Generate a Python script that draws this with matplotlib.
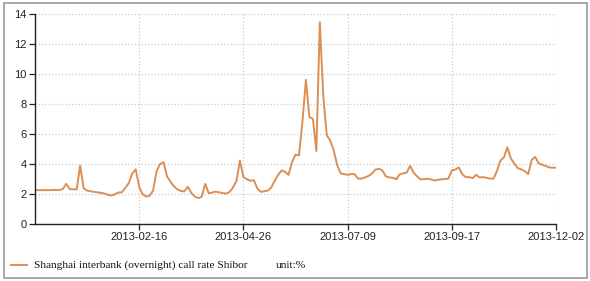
import numpy as np
import matplotlib.pyplot as plt
from matplotlib.patches import Rectangle

# Shibor overnight rate, one value per trading day index
rate = [2.23, 2.23, 2.23, 2.23, 2.23, 2.24, 2.24, 2.24, 2.30, 2.65,
        2.30, 2.28, 2.28, 3.88, 2.35, 2.20, 2.15, 2.12, 2.08, 2.05,
        2.00, 1.92, 1.87, 1.95, 2.07, 2.09, 2.38, 2.70, 3.35, 3.62,
        2.45, 1.95, 1.80, 1.85, 2.20, 3.50, 3.97, 4.10, 3.15, 2.80,
        2.48, 2.28, 2.17, 2.15, 2.45, 2.05, 1.80, 1.70, 1.78, 2.65,
        2.03, 2.07, 2.13, 2.08, 2.04, 2.00, 2.10, 2.40, 2.85, 4.20,
        3.10, 2.96, 2.85, 2.90, 2.35, 2.12, 2.15, 2.20, 2.40, 2.85,
        3.25, 3.55, 3.45, 3.25, 4.10, 4.60, 4.55, 6.80, 9.60, 7.10,
        7.00, 4.85, 13.45, 8.50, 5.90, 5.55, 4.90, 3.90, 3.35, 3.30,
        3.25, 3.30, 3.30, 3.00, 3.00, 3.08, 3.18, 3.33, 3.60, 3.66,
        3.55, 3.15, 3.08, 3.05, 2.95, 3.28, 3.35, 3.40, 3.85, 3.40,
        3.15, 2.95, 2.97, 2.98, 2.95, 2.87, 2.92, 2.95, 2.97, 3.00,
        3.55, 3.60, 3.75, 3.30, 3.10, 3.10, 3.03, 3.25, 3.08, 3.10,
        3.05, 3.00, 3.00, 3.50, 4.20, 4.42, 5.10, 4.35, 4.00, 3.70,
        3.62, 3.50, 3.30, 4.25, 4.45, 4.02, 3.93, 3.85, 3.75, 3.73,
        3.73]
tick_pos = [30, 60, 90, 120, 150]
tick_labels = ["2013-02-16", "2013-04-26", "2013-07-09", "2013-09-17", "2013-12-02"]
y_ticks = [0, 2, 4, 6, 8, 10, 12, 14]

line_color = "#dc8f55"

fig = plt.figure(figsize=(5.9, 2.81), dpi=100)
fig.patches.append(Rectangle((0.006, 0.01), 0.989, 0.98, transform=fig.transFigure,
                             fill=False, edgecolor="#999999", linewidth=1.2))

ax = fig.add_axes([35/590, 1-223.5/281, 521/590, 209.5/281])
x = np.arange(len(rate))
ax.plot(x, rate, color=line_color, linewidth=1.4)

ax.set_xlim(0, 150)
ax.set_ylim(0, 14)
ax.set_xticks(tick_pos)
ax.set_xticklabels(tick_labels)
ax.set_yticks(y_ticks)
ax.grid(True, color="#cccccc", linestyle=":", linewidth=0.9)
ax.set_axisbelow(True)
for s in ["top", "right"]:
    ax.spines[s].set_visible(False)
for s in ["left", "bottom"]:
    ax.spines[s].set_color("#222222")
    ax.spines[s].set_linewidth(1.0)
ax.tick_params(axis="both", direction="out", length=4, width=0.9, color="#222222",
               labelsize=8, labelcolor="#222222", pad=2)
for lab in ax.get_xticklabels() + ax.get_yticklabels():
    lab.set_family("Liberation Sans")

# legend row
fig.lines.append(plt.Line2D([11/590, 27/590], [1-265/281, 1-265/281],
                            transform=fig.transFigure, color=line_color, linewidth=1.4))
fig.text(34/590, 1-265/281, "Shanghai interbank (overnight) call rate Shibor",
         family="Liberation Serif", fontsize=8.2, va="center", ha="left", color="#111111")
fig.text(276/590, 1-265/281, "unit:%", family="Liberation Serif", fontsize=8.2,
         va="center", ha="left", color="#111111")

fig.savefig("out.png", dpi=100)
